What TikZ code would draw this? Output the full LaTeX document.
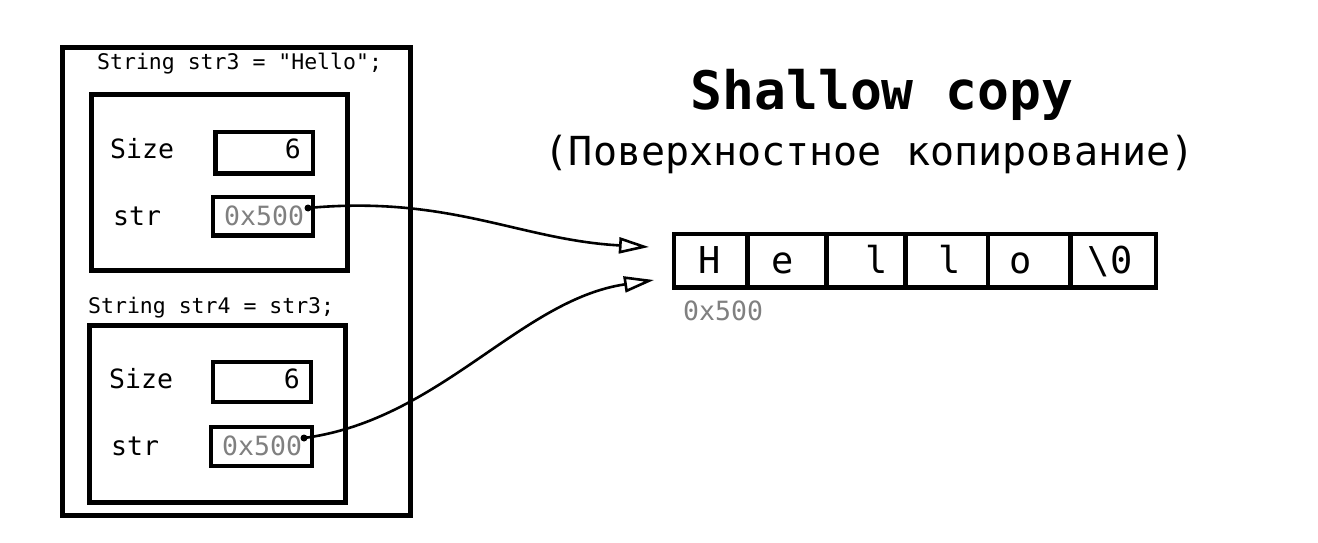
\documentclass[tikz,border=0pt]{standalone}
\usepackage{fontspec}
\setmonofont{DejaVu Sans Mono}
\renewcommand*{\familydefault}{\ttdefault}
\usetikzlibrary{arrows.meta}
\definecolor{addr}{RGB}{128,128,128}
\begin{document}
\begin{tikzpicture}[x=1pt,y=-1pt,
  every node/.style={font=\ttfamily},
  bigbox/.style={draw,line width=5pt,inner sep=0pt},
  smallbox/.style={draw,line width=4.4pt,inner sep=0pt},
  cell/.style={draw,line width=4.6pt,inner sep=0pt,minimum height=53.5pt},
  lbl/.style={anchor=base west,inner sep=0pt,font=\ttfamily\fontsize{21.5}{24}\selectfont},
  fld/.style={anchor=base west,inner sep=0pt,font=\ttfamily\fontsize{26.5}{30}\selectfont},
  val/.style={anchor=base east,inner sep=0pt,font=\ttfamily\fontsize{26.5}{30}\selectfont},
  adr/.style={anchor=base west,inner sep=0pt,text=addr,font=\ttfamily\fontsize{26.5}{30}\selectfont},
  chr/.style={anchor=base,inner sep=0pt,font=\ttfamily\fontsize{37}{40}\selectfont},
  ptr/.style={circle,fill=black,inner sep=0pt,minimum size=7pt},
  link/.style={line width=2.6pt,-{Triangle[open,length=30pt,width=16pt,line width=2.6pt]}}]
\useasboundingbox[fill=white] (0,0) rectangle (1318,543);

% outer frame
\node[bigbox,minimum width=347.5pt,minimum height=467.5pt] (outer) at (236.25,281.25) {};

% str3
\node[lbl] (lab3) at (97,70) {String str3 = "Hello";};
\node[bigbox,minimum width=256pt,minimum height=175.5pt] (obj3) at (219.5,182.75) {};
\node[fld] (size3) at (110,158) {Size};
\node[smallbox,minimum width=97.5pt,minimum height=41.5pt] (sbox3) at (264.25,152.75) {};
\node[val] (sval3) at (301,158) {6};
\node[fld] (str3) at (113,225) {str};
\node[smallbox,minimum width=100pt,minimum height=38.5pt] (pbox3) at (263,216.25) {};
\node[adr] (pval3) at (224,225) {0x500};
\node[ptr] (dot3) at (308,208) {};

% str4
\node[lbl] (lab4) at (88,313) {String str4 = str3;};
\node[bigbox,minimum width=256pt,minimum height=177pt] (obj4) at (217.5,414) {};
\node[fld] (size4) at (109,388) {Size};
\node[smallbox,minimum width=98pt,minimum height=40pt] (sbox4) at (262,382) {};
\node[val] (sval4) at (300,388) {6};
\node[fld] (str4) at (111,455) {str};
\node[smallbox,minimum width=101pt,minimum height=39pt] (pbox4) at (261.5,446.5) {};
\node[adr] (pval4) at (222,455) {0x500};
\node[ptr] (dot4) at (304,438) {};

% title
\node[anchor=base,inner sep=0pt,font=\ttfamily\fontsize{53}{58}\bfseries] (title) at (882,110) {Shallow copy};
\node[anchor=base,inner sep=0pt,font=\ttfamily\fontsize{40}{44}\selectfont] (subtitle) at (870,165) {(Поверхностное копирование)};

% array
\node[cell,minimum width=73.5pt] (c0) at (710.75,260.75) {};
\node[cell,minimum width=79pt] (c1) at (787,260.75) {};
\node[cell,minimum width=79pt] (c2) at (866,260.75) {};
\node[cell,minimum width=82.5pt] (c3) at (946.75,260.75) {};
\node[cell,minimum width=82.5pt] (c4) at (1029.25,260.75) {};
\node[cell,minimum width=85.5pt] (c5) at (1113.25,260.75) {};
\node[chr] (h0) at (710,273) {H};
\node[chr] (h1) at (783,273) {e};
\node[chr] (h2) at (877,273) {l};
\node[chr] (h3) at (950,273) {l};
\node[chr] (h4) at (1021,273) {o};
\node[chr] (h5) at (1110,273) {\textbackslash0};
\node[adr] (arraddr) at (683,320) {0x500};

% pointers
\coordinate (tip3) at (649,247);
\coordinate (tip4) at (654,280);
\draw[link] (dot3.center) .. controls (450,195) and (520,240) .. (tip3);
\draw[link] (dot4.center) .. controls (440,420) and (520,300) .. (tip4);
\end{tikzpicture}
\end{document}
